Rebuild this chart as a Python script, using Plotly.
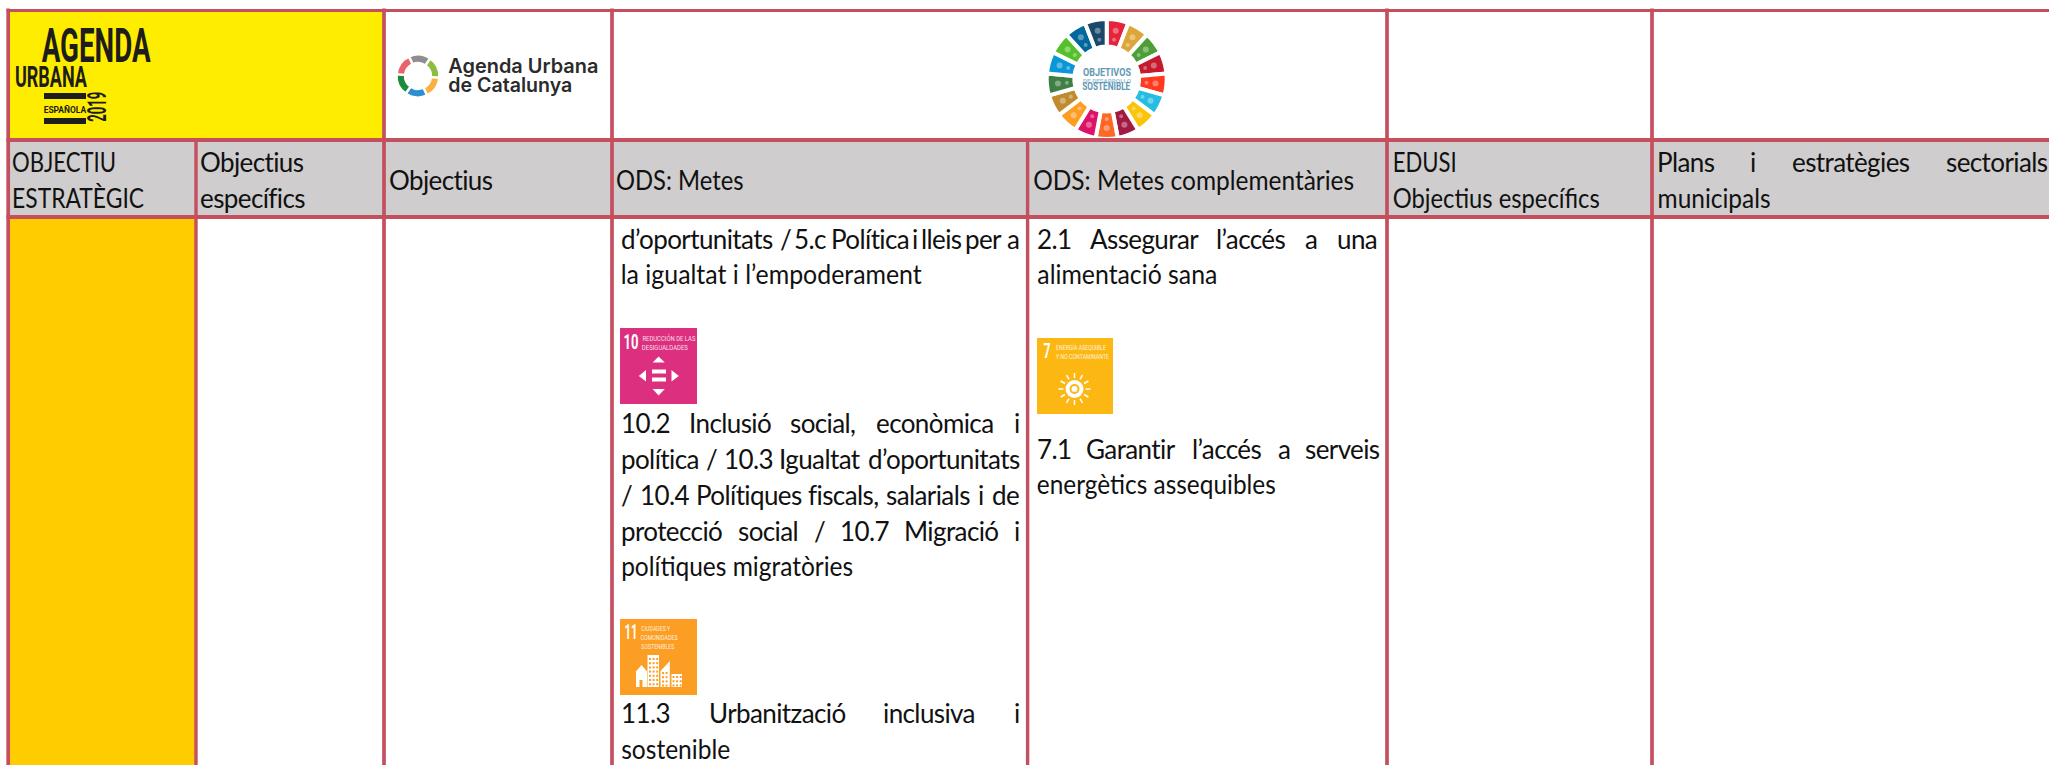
import json
import math
import plotly.graph_objects as go

# ---------- content ----------
HEADERS_A = ["OBJECTIU", "ESTRATÈGIC"]
HEADERS_B = ["Objectius", "específics"]
HEADER_C = "Objectius"
HEADER_D = "ODS: Metes"
HEADER_E = "ODS: Metes complementàries"
HEADERS_F = ["EDUSI", "Objectius específics"]
HEADER_G1 = ["Plans", "i", "estratègies", "sectorials"]
HEADER_G2 = "municipals"

META_LINES = [
    ["d’oportunitats", "/", "5.c", "Política", "i", "lleis", "per", "a"],
    ["la igualtat i l’empoderament"],
    ["10.2", "Inclusió", "social,", "econòmica", "i"],
    ["política", "/", "10.3", "Igualtat", "d’oportunitats"],
    ["/", "10.4", "Polítiques", "fiscals,", "salarials", "i", "de"],
    ["protecció", "social", "/", "10.7", "Migració", "i"],
    ["polítiques migratòries"],
    ["11.3", "Urbanització", "inclusiva", "i"],
    ["sostenible"],
]
COMP_LINES = [
    ["2.1", "Assegurar", "l’accés", "a", "una"],
    ["alimentació sana"],
    ["7.1", "Garantir", "l’accés", "a", "serveis"],
    ["energètics assequibles"],
]
SDG_COLORS = ["#E5243B", "#DDA63A", "#4C9F38", "#C5192D", "#FF3A21", "#26BDE2", "#FCC30B", "#A21942", "#FD6925",
              "#DD1367", "#FD9D24", "#BF8B2E", "#3F7E44", "#0A97D9", "#56C02B", "#00689D", "#19486A"]
SDG_SHARES = [1] * 17
RING_COLORS = ["#8E8E8E", "#8DBE3F", "#FBB040", "#2E8FD0", "#1E8B3C", "#E8646A"]
RING_SHARES = [1] * 6

# ---------- layout ----------
W, H = 2049, 765
LINE = "#C44F5E"
GREY = "#CFCDCE"
YELLOW = "#FFED00"
ORANGE = "#FFCC00"
INK = "#111111"
FONT = "Lato"
LOGO = "Roboto"
SIZE = 26
TRACK = -0.6

META_BASE = [248, 283, 432, 468, 504, 540, 575, 722, 758]
META_X = [[42, 352, 380, 452, 612, 630, 716, 797], [42], [42, 175, 372, 540, 812], [42, 208, 243, 350, 525],
          [42, 78, 188, 408, 560, 740, 768], [42, 270, 420, 470, 595, 812], [42], [42, 213, 555, 812], [42]]
COMP_BASE = [248, 283, 458, 493]
COMP_X = [[857, 960, 1208, 1382, 1445], [857], [857, 953, 1160, 1328, 1382], [857]]

# widths of the whole lines as they appear in the picture
FIT = {"OBJECTIU": 104, "ESTRATÈGIC": 132, "EDUSI": 64, "Objectius específics": 207, "ODS: Metes": 127.5,
       "ODS: Metes complementàries": 321, "municipals": 113, "la igualtat i l’empoderament": 301,
       "polítiques migratòries": 232, "sostenible": 109, "alimentació sana": 180, "energètics assequibles": 239}

shapes, ann = [], []


def rect(x0, y0, x1, y1, fill):
    shapes.append(dict(type="rect", xref="x", yref="y", x0=x0, y0=y0, x1=x1, y1=y1, fillcolor=fill, line_width=0, layer="below"))


def icon_rect(x0, y0, x1, y1, fill="white"):
    shapes.append(dict(type="rect", xref="x", yref="y", x0=x0, y0=y0, x1=x1, y1=y1, fillcolor=fill, line_width=0))


def poly(points, fill="white"):
    d = "M" + " L".join(f"{a},{b}" for a, b in points) + " Z"
    shapes.append(dict(type="path", xref="x", yref="y", path=d, fillcolor=fill, line_width=0))


def txt(x, base, s, size=SIZE, color=INK, font=FONT, weight=None, angle=0, anchor="left"):
    ann.append(dict(x=x, y=base - 0.36 * size, xref="x", yref="y", text=s, showarrow=False, xanchor=anchor, yanchor="middle",
                    align="left", textangle=angle, borderpad=0, borderwidth=0,
                    font=dict(family=font, size=size, color=color, weight=weight)))


def fit(left, width, base, s, size, color, font=LOGO, weight="bold", angle=0):
    FIT[s] = width
    txt(left + width / 2, base, s, size=size, color=color, font=font, weight=weight, angle=angle, anchor="center")


def body(x, base, s):
    if s in FIT:
        txt(x + FIT[s] / 2, base, s, anchor="center")
    else:
        txt(x, base, s)


# fills
rect(8, 11, 384, 140, YELLOW)
rect(8, 140, 2049, 217, GREY)
rect(8, 217, 196, 765, ORANGE)


def hline(y, width, x0=6.5, x1=2049):
    shapes.append(dict(type="line", xref="x", yref="y", x0=x0, x1=x1, y0=y, y1=y, line=dict(color=LINE, width=width)))


def vline(x, y0, y1=765, width=3.7):
    shapes.append(dict(type="line", xref="x", yref="y", x0=x, x1=x, y0=y0, y1=y1, line=dict(color=LINE, width=width)))


hline(10.5, 3)
hline(140, 4)
hline(217, 4)
for x in (8.2, 384, 612, 1387, 1652):
    vline(x, 8.5)
vline(196, 140, width=3.4)
vline(1027.6, 140, width=3.4)

# headers
for i, s in enumerate(HEADERS_A):
    body(12, 171 + 36 * i, s)
for i, s in enumerate(HEADERS_B):
    body(200, 171 + 36 * i, s)
body(389, 189, HEADER_C)
body(616, 189, HEADER_D)
body(1033, 189, HEADER_E)
for i, s in enumerate(HEADERS_F):
    body(1392, 171 + 36 * i, s)
for s, x in zip(HEADER_G1, [1657, 1750, 1792, 1946]):
    body(x, 171, s)
body(1657, 207, HEADER_G2)

# body text
for words, xs, base in zip(META_LINES, META_X, META_BASE):
    for w, x in zip(words, xs):
        body(600 + x / 1.96, base, w)
for words, xs, base in zip(COMP_LINES, COMP_X, COMP_BASE):
    for w, x in zip(words, xs):
        body(600 + x / 1.96, base, w)

# Agenda Urbana Española logo
DARK = "#1D1D1B"
fit(41, 109, 63, "AGENDA", 49, DARK)
fit(15, 72, 87, "URBANA", 30, DARK)
icon_rect(44, 93, 86, 99, DARK)
icon_rect(44, 118, 86, 124, DARK)
fit(43.5, 42.5, 113, "ESPAÑOLA", 9.5, DARK)
fit(81.5, 30, 116, "2019", 25, DARK, angle=-90)

# Catalunya logo text
fit(448, 150, 73, "Agenda Urbana", 20, "#2B2B2B", font="Inter", weight=600)
fit(448, 124, 92, "de Catalunya", 20, "#2B2B2B", font="Inter", weight=600)

# tile 10
T10 = "#DC2F7F"
PALE = "rgba(255,255,255,0.85)"
rect(620, 328, 697, 404, T10)
fit(623, 15, 350, "10", 21, "white")
fit(642, 53, 341, "REDUCCIÓN DE LAS", 8, PALE, weight=None)
fit(642, 46, 350, "DESIGUALDADES", 8, PALE, weight=None)
poly([(658.6, 356.5), (652.6, 362.5), (664.8, 362.5)])
poly([(652.6, 389), (664.8, 389), (658.6, 395.5)])
poly([(638.8, 376), (646, 370), (646, 381.5)])
poly([(671.5, 370), (678.8, 376), (671.5, 381.5)])
icon_rect(652, 369.5, 666, 373.5)
icon_rect(652, 377.5, 666, 381.5)

# tile 7
T7 = "#FDB713"
rect(1037, 338, 1113, 414, T7)
fit(1043, 7, 359, "7", 21, "white")
fit(1056, 50, 350, "ENERGÍA ASEQUIBLE", 8, PALE, weight=None)
fit(1056, 53, 359, "Y NO CONTAMINANTE", 8, PALE, weight=None)
sx, sy = 1074.5, 389
shapes.append(dict(type="circle", xref="x", yref="y", x0=sx - 9, x1=sx + 9, y0=sy - 9, y1=sy + 9, fillcolor="white", line_width=0))
shapes.append(dict(type="circle", xref="x", yref="y", x0=sx - 5, x1=sx + 5, y0=sy - 5, y1=sy + 5, fillcolor=T7, line_width=0))
shapes.append(dict(type="circle", xref="x", yref="y", x0=sx - 3, x1=sx + 3, y0=sy - 3, y1=sy + 3, fillcolor="white", line_width=0))
for k in range(12):
    a = k * math.pi / 6
    shapes.append(dict(type="line", xref="x", yref="y", x0=sx + 11 * math.cos(a), y0=sy + 11 * math.sin(a),
                       x1=sx + 16 * math.cos(a), y1=sy + 16 * math.sin(a), line=dict(color="white", width=1.5)))

# tile 11
T11 = "#FD9E24"
rect(620, 619, 697, 695, T11)
fit(624, 13, 640, "11", 21, "white")
fit(641, 29, 631, "CIUDADES Y", 7.5, PALE, weight=None)
fit(641, 37, 640, "COMUNIDADES", 7.5, PALE, weight=None)
fit(641, 33, 649, "SOSTENIBLES", 7.5, PALE, weight=None)
icon_rect(647.5, 655, 659, 687)
icon_rect(636, 671, 647, 687)
poly([(635.5, 672), (641.5, 665), (647.5, 672)])
poly([(660.5, 687), (660.5, 671), (669.8, 661), (669.8, 687)])
icon_rect(671.5, 674, 682, 687)
for cx0, cx1, cy0, cy1 in [(649, 658, 658, 686), (662, 669, 672, 686), (672.5, 681, 676, 686)]:
    yy = cy0
    while yy < cy1:
        xx = cx0
        while xx < cx1:
            icon_rect(xx, yy, xx + 2, yy + 2, T11)
            xx += 3.6
        yy += 4.2
icon_rect(639.5, 680, 642.5, 687, T11)

# SDG wheel and Catalunya ring
WX, WY, WR = 1106.7, 79, 60
wheel = go.Pie(values=SDG_SHARES, marker=dict(colors=SDG_COLORS, line=dict(color="white", width=4)), hole=0.54, sort=False,
               direction="clockwise", rotation=0, textinfo="none", hoverinfo="skip", showlegend=False,
               domain=dict(x=[(WX - WR) / W, (WX + WR) / W], y=[1 - (WY + WR) / H, 1 - (WY - WR) / H]))
ring = go.Pie(values=RING_SHARES, marker=dict(colors=RING_COLORS, line=dict(color="white", width=2.5)), hole=0.6, sort=False,
              direction="clockwise", rotation=-25, textinfo="none", hoverinfo="skip", showlegend=False,
              domain=dict(x=[(418 - 21.5) / W, (418 + 21.5) / W], y=[1 - (76 + 21.5) / H, 1 - (76 - 21.5) / H]))
for k in range(17):
    a = (k + 0.5) * 2 * math.pi / 17
    for rr, half in ((49, 3.0), (40, 2.0)):
        cx, cy = WX + rr * math.sin(a), WY - rr * math.cos(a)
        shapes.append(dict(type="circle", xref="x", yref="y", x0=cx - half, x1=cx + half, y0=cy - half, y1=cy + half,
                           fillcolor="rgba(255,255,255,0.35)", line_width=0))

# wheel centre text
TEAL = "#5E98B5"
fit(1082.5, 48, 76, "OBJETIVOS", 10.5, TEAL)
fit(1082.5, 48, 82.5, "DE DESARROLLO", 6, "#9CC4D6")
fit(1082.5, 48, 90, "SOSTENIBLE", 10, TEAL)

fig = go.Figure(data=[wheel, ring])
fig.update_layout(
    width=W, height=H, margin=dict(l=0, r=0, t=0, b=0), paper_bgcolor="white", plot_bgcolor="rgba(0,0,0,0)",
    xaxis=dict(range=[0, W], visible=False, fixedrange=True), yaxis=dict(range=[H, 0], visible=False, fixedrange=True),
    shapes=shapes, annotations=ann, showlegend=False)
fig.add_trace(go.Scatter(x=[0, W], y=[0, H], mode="markers", marker_opacity=0, hoverinfo="skip", showlegend=False))

POST = """
document.body.style.margin='0';document.body.style.overflow='hidden';
var FIT=%s, TRACK=%s;
document.querySelectorAll('.annotation-text').forEach(function(t){
  var s=t.textContent, b=t.getBBox(), w0=t.getComputedTextLength(), x0=b.x;
  t.setAttribute('text-anchor','start');
  if(FIT[s]){x0=b.x+(w0-FIT[s])/2;t.setAttribute('textLength',FIT[s]);t.setAttribute('lengthAdjust','spacingAndGlyphs');}
  else{t.style.letterSpacing=TRACK+'px';}
  t.setAttribute('x',x0);
});
""" % (json.dumps(FIT), TRACK)
fig.write_html("out.html", config=dict(displayModeBar=False), post_script=POST)
